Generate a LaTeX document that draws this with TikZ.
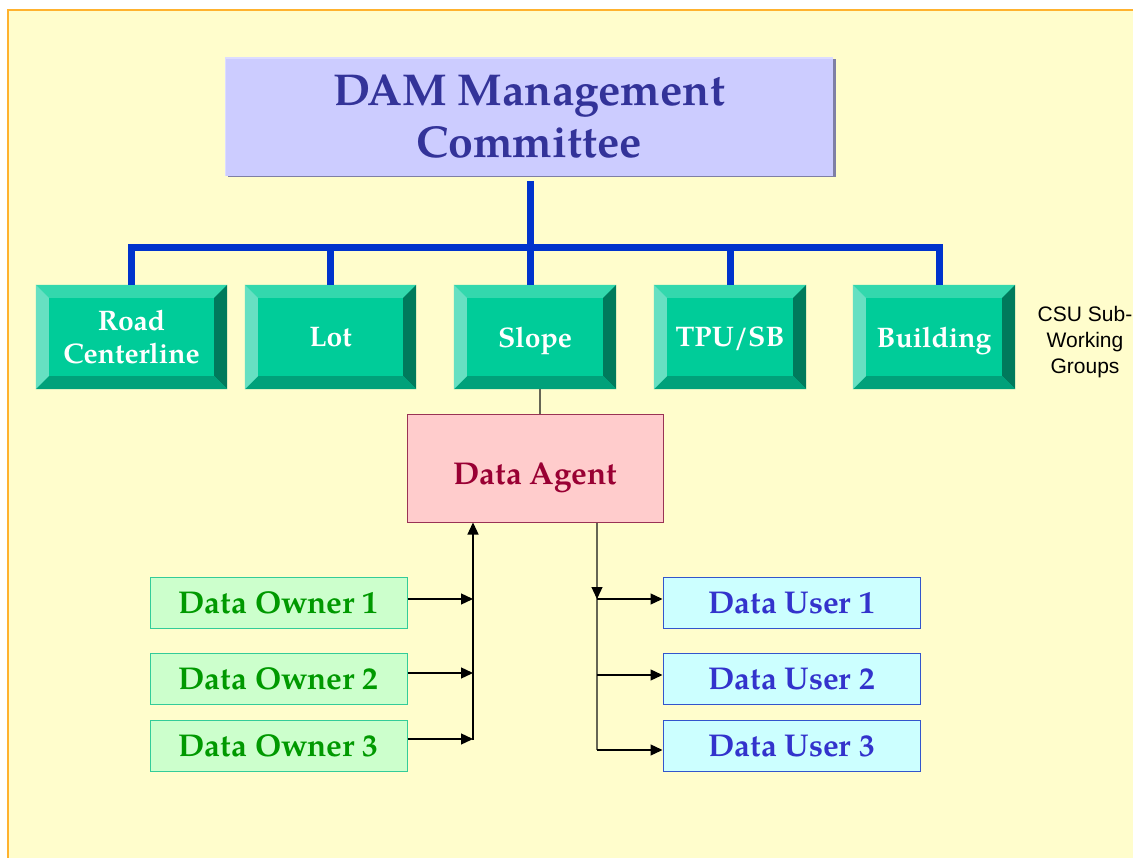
\documentclass[tikz,border=0pt]{standalone}
\usepackage{fontspec}
\setmainfont{TeX Gyre Pagella}
\newfontfamily\arialf{Liberation Sans}
\usetikzlibrary{arrows.meta,calc}
\definecolor{bgY}{HTML}{FFFDCC}
\definecolor{bgB}{HTML}{FFB22E}
\definecolor{ttlF}{HTML}{CCCCFF}
\definecolor{ttlT}{HTML}{333399}
\definecolor{ttlS}{HTML}{7F7FA5}
\definecolor{ttlH}{HTML}{DCDCFF}
\definecolor{busB}{HTML}{0033CC}
\definecolor{gC}{HTML}{00CC99}
\definecolor{gT}{HTML}{33D8AD}
\definecolor{gL}{HTML}{66E0C2}
\definecolor{gR}{HTML}{007A5C}
\definecolor{gB}{HTML}{00A17A}
\definecolor{agF}{HTML}{FFCCCC}
\definecolor{agD}{HTML}{993355}
\definecolor{agT}{HTML}{990033}
\definecolor{owF}{HTML}{CCFFCC}
\definecolor{owD}{HTML}{33CC99}
\definecolor{owT}{HTML}{009900}
\definecolor{usF}{HTML}{CCFFFF}
\definecolor{usD}{HTML}{3355CC}
\definecolor{usT}{HTML}{3333CC}
\definecolor{lnG}{HTML}{666655}
\newcommand\bevelbox[1]{%
  \fill[gT] (#1.north west) -- (#1.north east) -- ($(#1.north east)+(-13,13)$) -- ($(#1.north west)+(13,13)$) -- cycle;
  \fill[gR] (#1.north east) -- (#1.south east) -- ($(#1.south east)+(-13,-13)$) -- ($(#1.north east)+(-13,13)$) -- cycle;
  \fill[gB] (#1.south west) -- (#1.south east) -- ($(#1.south east)+(-13,-13)$) -- ($(#1.south west)+(13,-13)$) -- cycle;
  \fill[gL] (#1.north west) -- (#1.south west) -- ($(#1.south west)+(13,-13)$) -- ($(#1.north west)+(13,13)$) -- cycle;
}
\begin{document}
\begin{tikzpicture}[x=1pt,y=-1pt,
  titlebox/.style={fill=ttlF, inner sep=0pt, minimum width=608pt, minimum height=119pt,
    align=center, text=ttlT, font=\bfseries\fontsize{44.6}{52}\selectfont},
  grp/.style={fill=gC, inner sep=0pt, minimum height=104pt, align=center, text=white,
    font=\bfseries\fontsize{28.3}{33}\selectfont},
  agentbox/.style={fill=agF, draw=agD, line width=1pt, inner sep=0pt, minimum width=256pt,
    minimum height=107pt, text=agT, font=\bfseries\fontsize{31.5}{36}\selectfont,
    text height=33pt, text depth=0pt},
  ownbox/.style={fill=owF, draw=owD, line width=1pt, inner sep=0pt, minimum width=257pt,
    minimum height=51pt, text=owT, font=\bfseries\fontsize{31.5}{36}\selectfont, text depth=0pt},
  usrbox/.style={fill=usF, draw=usD, line width=1pt, inner sep=0pt, minimum width=257pt,
    minimum height=51pt, text=usT, font=\bfseries\fontsize{31.5}{36}\selectfont, text depth=0pt},
  busline/.style={draw=busB, line width=7pt},
  arr/.style={draw=black, line width=1.3pt, -{Triangle[length=12pt,width=11pt]}},
  grayline/.style={draw=lnG, line width=1.3pt},
  csu/.style={align=center, font=\arialf\fontsize{21}{26}\selectfont, text=black, inner sep=0pt}
]
\useasboundingbox (0,0) rectangle (1133,858);
\fill[white] (0,0) rectangle (1133,858);
\fill[bgY] (8,10) rectangle (1140,870);
\draw[bgB, line width=1.5pt] (8,870) -- (8,10) -- (1140,10);

% title
\fill[ttlS] (228,59) rectangle (836,177.5);
\node[titlebox] (title) at (529,116.5) {DAM Management\\Committee};
\fill[ttlH] (title.north west) rectangle ($(title.north east)+(0,2)$);
\fill[ttlH] (title.north west) rectangle ($(title.south west)+(1.5,0)$);

% groups
\node[grp, minimum width=191pt] (road) at (131.5,337) {Road\\Centerline};
\node[grp, minimum width=171pt, text depth=0pt] (lot) at (330.5,337) {Lot};
\node[grp, minimum width=162pt, text depth=0pt] (slope) at (535,337) {Slope};
\node[grp, minimum width=152pt, text depth=0pt] (tpu) at (730,337) {TPU/SB};
\node[grp, minimum width=162pt, text depth=0pt] (build) at (934,337) {Building};
\bevelbox{road}\bevelbox{lot}\bevelbox{slope}\bevelbox{tpu}\bevelbox{build}
\node[csu] (csu) at (1085,342.5) {CSU Sub-\\Working\\Groups};

% blue tree
\coordinate (bus) at (530,248);
\coordinate (tt) at (530,181);
\coordinate (st) at ([xshift=-5pt]slope.north);
\coordinate (bt) at ([xshift=5pt]build.north);
\draw[busline] (tt) -- (bus);
\draw[busline, line join=miter] (road.north) |- (bus) -| (bt);
\draw[busline] (lot.north) -- (lot.north |- bus);
\draw[busline] (st) -- (st |- bus);
\draw[busline] (tpu.north) -- (tpu.north |- bus);

% data agent
\node[agentbox] (agent) at (535,468.5) {Data Agent};
\coordinate (sa) at ([xshift=5pt]slope.south);
\draw[grayline] (sa) -- (sa |- agent.north);

% owners and users
\node[ownbox] (own1) at (278.5,602.5) {Data Owner 1};
\node[ownbox] (own2) at (278.5,678.5) {Data Owner 2};
\node[ownbox] (own3) at (278.5,745.5) {Data Owner 3};
\node[usrbox] (usr1) at (791.5,602.5) {Data User 1};
\node[usrbox] (usr2) at (791.5,678.5) {Data User 2};
\node[usrbox] (usr3) at (791.5,745.5) {Data User 3};

\coordinate (oj) at (473,740);
\draw[arr] (oj) -- (oj |- agent.south);
\coordinate (o1) at ([yshift=3.5pt]own1.east);
\coordinate (o2) at ([yshift=5.5pt]own2.east);
\coordinate (o3) at ([yshift=6.5pt]own3.east);
\draw[arr] (o1) -- (o1 -| oj);
\draw[arr] (o2) -- (o2 -| oj);
\draw[arr] (o3) -- (o3 -| oj);

\coordinate (uj) at (597,750);
\coordinate (u1) at ([yshift=3.5pt]usr1.west);
\coordinate (u2) at ([yshift=3.5pt]usr2.west);
\coordinate (u3) at ([yshift=-4.5pt]usr3.west);
\draw[grayline] (uj |- agent.south) -- (uj);
\draw[grayline, -{Triangle[length=12pt,width=11pt,color=black]}] (uj |- agent.south) -- (u1 -| uj);
\draw[arr] (u1 -| uj) -- (u1);
\draw[arr] (u2 -| uj) -- (u2);
\draw[arr] (u3 -| uj) -- (u3);
\end{tikzpicture}
\end{document}
